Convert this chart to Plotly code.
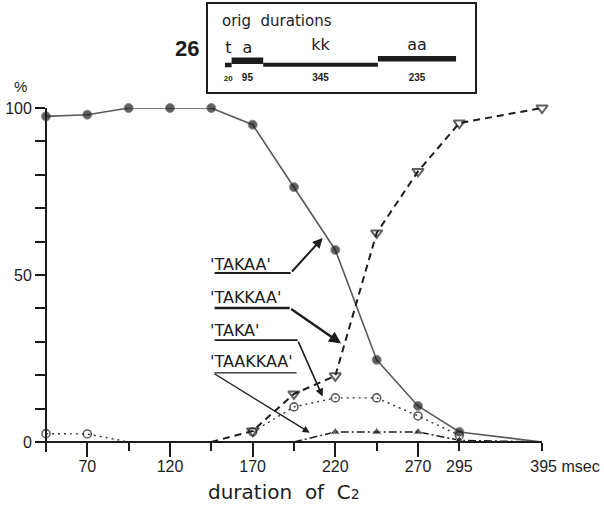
import plotly.graph_objects as go

# ---------------- data ----------------
durations = [45, 70, 95, 120, 145, 170, 195, 220, 245, 270, 295, 395]
takaa   = [97.5, 98, 100, 100, 100, 95, 76.3, 57.5, 24.6, 10.8, 3.0, 0]
takkaa  = [None, None, None, None, 0, 3.3, 14.4, 19.8, 62.6, 81, 95.5, 100]
taka    = [2.5, 2.4, 0, None, None, 3.0, 10.5, 13.2, 13.2, 7.8, 2.0, None]
taakkaa = [None, None, None, None, None, None, 0, 3.0, 3.0, 3.0, 0.5, 0]

x_major_ticks = [70, 120, 170, 220, 270]
x_minor_ticks = [95, 145, 195, 245]
x_end_ticks = [295]
x_last_tick = [395]
x_last_text = ["395 msec"]
y_label_ticks = [0, 50, 100]
y_all_ticks = [0, 10, 20, 30, 40, 50, 60, 70, 80, 90, 100]
x_title = "duration  of  C<span style='font-size:14px'>2</span>"

orig_segments = ["t", "a", "kk", "aa"]
orig_durations = [20, 95, 345, 235]

# ---------------- layout helpers ----------------
W, H = 604, 506
BREAK_AT, BREAK_POS = 395, 345      # axis break: 395 ms drawn where 345 would be


def xpos(d):
    return BREAK_POS if d >= BREAK_AT else d


xs = [xpos(d) for d in durations]
XR = [40, 345]
YR = [-3, 100]
PL, PR, PT, PB = 37.7, 542, 108, 452
xdom = [PL / W, PR / W]
ydom = [1 - PB / H, 1 - PT / H]
x_axis_pos = ydom[0] + (0 - YR[0]) / (YR[1] - YR[0]) * (ydom[1] - ydom[0])
y_axis_pos = xdom[0] + (45 - XR[0]) / (XR[1] - XR[0]) * (xdom[1] - xdom[0])

INK = "#1c1c1c"
FONT = "Liberation Sans, Arial, sans-serif"
LFONT = "DejaVu Sans, sans-serif"


def msize(vals, s):
    return [0 if (v is None or v == 0) else s for v in vals]


fig = go.Figure()

fig.add_trace(go.Scatter(x=xs, y=takaa, mode="lines+markers", cliponaxis=False,
                         line=dict(color="#5a5a5a", width=1.6),
                         marker=dict(symbol="circle", size=msize(takaa, 9), color=INK),
                         showlegend=False))
fig.add_trace(go.Scatter(x=xs, y=takkaa, mode="lines+markers", cliponaxis=False,
                         line=dict(color=INK, width=2, dash="7px,5px"),
                         marker=dict(symbol="triangle-down-open", size=msize(takkaa, 10),
                                     color=INK, line=dict(width=2)),
                         showlegend=False))
fig.add_trace(go.Scatter(x=xs, y=taka, mode="lines+markers", cliponaxis=False,
                         line=dict(color="#333333", width=1.4, dash="2px,4px"),
                         marker=dict(symbol="circle-open", size=msize(taka, 8),
                                     color=INK, line=dict(width=1.6)),
                         showlegend=False))
fig.add_trace(go.Scatter(x=xs, y=taakkaa, mode="lines+markers", cliponaxis=False,
                         line=dict(color=INK, width=1.5, dash="8px,3px,2px,3px"),
                         marker=dict(symbol="triangle-up", size=msize(taakkaa, 9), color=INK),
                         showlegend=False))
# empty traces so the overlay tick axes get drawn
for ax in ("x3", "x4"):
    fig.add_trace(go.Scatter(x=[None], y=[None], xaxis=ax, yaxis="y", mode="markers",
                             showlegend=False, hoverinfo="skip"))

# ---------- inset: original durations ----------
starts = []
acc = 0
for d in orig_durations:
    starts.append(acc)
    acc += d
centers = [s + d / 2 for s, d in zip(starts, orig_durations)]
bar_levels = [27, 31.3, 27.3, 33.2]
bar_thick = [4.5, 6.5, 4, 5.5]
sym_levels = [43, 43, 46, 46]
fig.add_trace(go.Bar(orientation="h", x=orig_durations, base=starts, y=bar_levels,
                     width=bar_thick, marker=dict(color=INK, line=dict(width=0)),
                     xaxis="x2", yaxis="y2", showlegend=False))
fig.add_trace(go.Scatter(x=centers, y=sym_levels, mode="text", text=orig_segments,
                         textfont=dict(family=LFONT, size=16, color=INK),
                         xaxis="x2", yaxis="y2", showlegend=False))
fig.add_trace(go.Scatter(x=centers, y=[13.5] * 4, mode="text",
                         text=[f"<b>{d}</b>" for d in orig_durations],
                         textfont=dict(family=FONT, size=[8, 10, 10, 10], color=INK),
                         xaxis="x2", yaxis="y2", showlegend=False))

axis_common = dict(showgrid=False, zeroline=False, automargin=False)
fig.update_layout(
    width=W, height=H, margin=dict(l=0, r=0, t=0, b=0, autoexpand=False),
    paper_bgcolor="white", plot_bgcolor="rgba(0,0,0,0)",
    font=dict(family=FONT, color=INK, size=16),
    xaxis=dict(domain=xdom, range=XR, anchor="free", position=x_axis_pos,
               showline=True, linecolor=INK, linewidth=1.8,
               tickmode="array", tickvals=x_major_ticks,
               ticks="outside", ticklen=14, tickwidth=1.8, tickcolor=INK,
               tickfont=dict(size=16, color=INK), ticklabelstandoff=-4,
               minor=dict(tickvals=x_minor_ticks, ticks="outside", ticklen=8,
                          tickwidth=1.8, tickcolor=INK),
               **axis_common),
    xaxis3=dict(domain=xdom, range=XR, anchor="free", position=x_axis_pos, overlaying="x",
                showline=False, tickmode="array", tickvals=x_end_ticks,
                ticks="outside", ticklen=8, tickwidth=1.8, tickcolor=INK,
                tickfont=dict(size=16, color=INK), ticklabelstandoff=2, **axis_common),
    xaxis4=dict(domain=xdom, range=XR, anchor="free", position=x_axis_pos, overlaying="x",
                showline=False, tickmode="array", tickvals=[xpos(v) for v in x_last_tick],
                ticktext=x_last_text, ticklabelshift=23, ticklabeloverflow="allow",
                ticks="outside", ticklen=8, tickwidth=1.8, tickcolor=INK,
                tickfont=dict(size=16, color=INK), ticklabelstandoff=2, **axis_common),
    yaxis=dict(domain=ydom, range=YR, anchor="free", position=y_axis_pos,
               showline=True, linecolor=INK, linewidth=1.8,
               tickmode="array", tickvals=y_label_ticks,
               ticks="outside", ticklen=10, tickwidth=1.6, tickcolor=INK,
               tickfont=dict(size=16, color=INK),
               minor=dict(tickvals=y_all_ticks, ticks="outside", ticklen=10,
                          tickwidth=1.6, tickcolor=INK),
               **axis_common),
    xaxis2=dict(domain=[208 / W, 475 / W], range=[-51, 752], anchor="y2",
                showline=True, mirror=True, linecolor=INK, linewidth=1.5,
                showticklabels=False, ticks="", **axis_common),
    yaxis2=dict(domain=[1 - 92 / H, 1 - 4 / H], range=[0, 88], anchor="x2",
                showline=True, mirror=True, linecolor=INK, linewidth=1.5,
                showticklabels=False, ticks="", **axis_common),
)

annotations = [
    dict(text=x_title, xref="paper", yref="paper", x=284 / W, y=0,
         xanchor="center", yanchor="bottom", showarrow=False,
         font=dict(family=LFONT, size=20, color=INK)),
    dict(text="orig  durations", xref="x2 domain", yref="y2 domain", x=0.045, y=0.81,
         xanchor="left", yanchor="middle", showarrow=False,
         font=dict(family=LFONT, size=15, color=INK)),
    dict(text="<b>26</b>", xref="paper", yref="paper", x=201 / W, y=1 - 48 / H,
         xanchor="right", yanchor="middle", showarrow=False,
         font=dict(family=FONT, size=22, color=INK)),
    dict(text="%", xref="paper", yref="paper", x=20 / W, y=1 - 86 / H,
         xanchor="center", yanchor="middle", showarrow=False,
         font=dict(family=FONT, size=15, color=INK)),
]

# callout labels: text, text y, underline y, underline end x, arrow tail, arrow head, width
callouts = [
    ("'TAKAA'",   53.0, 50.6, 193.0, (193.0, 50.6), (212.3, 61.1), 2.0),
    ("'TAKKAA'",  43.4, 40.1, 192.4, (192.4, 40.1), (223.5, 29.5), 2.4),
    ("'TAKA'",    33.5, 30.5, 197.2, (197.2, 30.5), (212.3, 13.6), 1.6),
    ("'TAAKKAA'", 24.0, 20.7, 196.6, (146.0, 20.7), (204.5, 2.8), 1.4),
]
shapes = []
for text, ty, uy, ux1, tail, head, lw in callouts:
    annotations.append(dict(text=text, xref="x", yref="y", x=143, y=ty,
                            xanchor="left", yanchor="middle", showarrow=False,
                            font=dict(family=LFONT, size=16, color=INK)))
    shapes.append(dict(type="line", xref="x", yref="y", x0=147, x1=ux1, y0=uy, y1=uy,
                       line=dict(color=INK, width=lw)))
    annotations.append(dict(text="", xref="x", yref="y", axref="x", ayref="y",
                            x=head[0], y=head[1], ax=tail[0], ay=tail[1],
                            showarrow=True, arrowhead=2, arrowsize=1.0,
                            arrowwidth=lw, arrowcolor=INK, standoff=0, startstandoff=0))

fig.update_layout(annotations=annotations, shapes=shapes)
fig.write_html("out.html",
               config=dict(displayModeBar=False),
               post_script="document.body.style.margin='0px';"
                           "document.body.style.overflow='hidden';")
